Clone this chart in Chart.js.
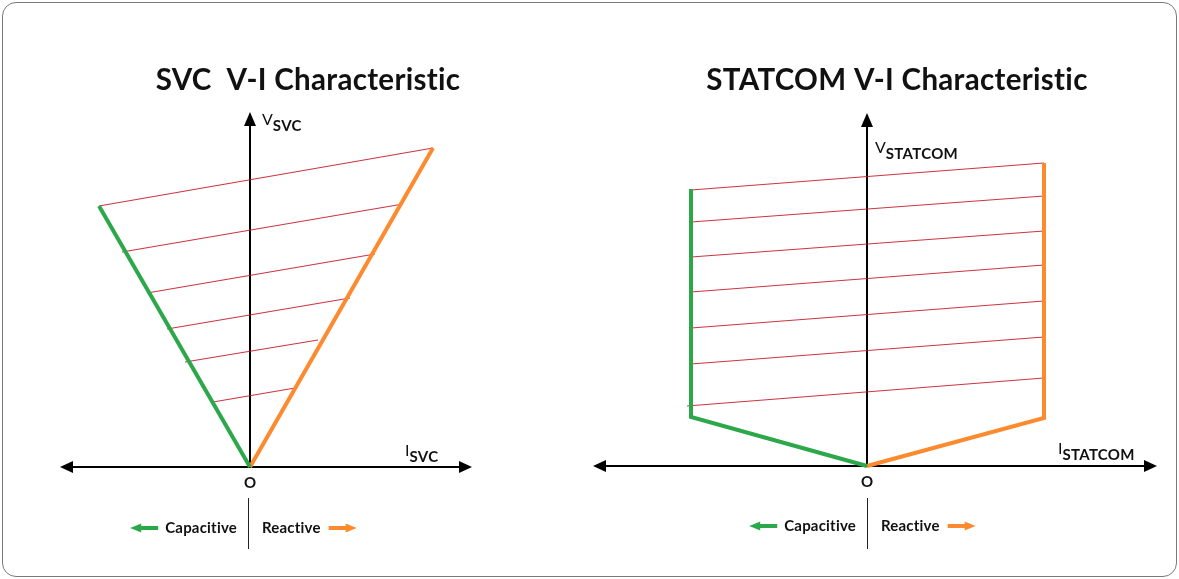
<!DOCTYPE html>
<html lang="en">
<head>
    <meta charset="UTF-8">
    <title>SVC and STATCOM V-I Characteristic</title>
    <script src="https://cdn.jsdelivr.net/npm/chart.js"></script>
    <style>
        * {
            margin: 0;
            padding: 0;
            box-sizing: border-box;
        }

        body {
            background: #fff;
            width: 1179px;
            height: 579px;
            position: relative;
            overflow: hidden;
        }

        .frame {
            position: absolute;
            left: 2px;
            top: 2px;
            width: 1175px;
            height: 575px;
            border: 1px solid #7a7a7a;
            border-radius: 14px;
        }

        .panel {
            position: absolute;
            top: 0;
            height: 579px;
        }

        #p-svc { left: 0; width: 590px; }
        #p-statcom { left: 590px; width: 589px; }
    </style>
</head>
<body>
    <div class="frame"></div>
    <div class="panel" id="p-svc"><canvas id="svc"></canvas></div>
    <div class="panel" id="p-statcom"><canvas id="statcom"></canvas></div>

    <script>
        // SVC: current I (x) and voltage V (y), arbitrary units
        const svcAxisI = [-19.0, 22.2];
        const svcAxisV = [0, 35.5];
        const svcCapI = [0, -15.1];
        const svcCapV = [0, 26.1];
        const svcIndI = [0, 18.3];
        const svcIndV = [0, 31.9];
        const svcHatchStartI = [-15.1, -12.8, -10.3, -8.3, -6.5, -3.7];
        const svcHatchStartV = [26.1, 21.5, 17.4, 13.8, 10.5, 6.5];
        const svcHatchEndI = [18.3, 15.3, 12.5, 10.0, 6.8, 4.5];
        const svcHatchEndV = [31.9, 26.3, 21.3, 16.9, 12.7, 7.9];

        // STATCOM
        const stcAxisI = [-27.4, 29.0];
        const stcAxisV = [0, 35.3];
        const stcCapI = [0, -17.6, -17.6];
        const stcCapV = [0, 4.9, 27.7];
        const stcIndI = [0, 17.7, 17.7];
        const stcIndV = [0, 4.8, 30.3];
        const stcHatchStartI = [-17.6, -17.6, -17.6, -17.6, -17.6, -17.6, -18.0];
        const stcHatchStartV = [27.6, 24.4, 20.9, 17.4, 13.8, 10.2, 6.0];
        const stcHatchEndI = [17.7, 17.7, 17.7, 17.7, 17.7, 17.7, 17.7];
        const stcHatchEndV = [30.3, 27.0, 23.5, 20.1, 16.5, 12.9, 8.8];

        const GREEN = '#2ca84a';
        const ORANGE = '#fd8a2e';
        const HATCH = 'rgba(195, 18, 32, 0.85)';

        Chart.defaults.font.family = 'Lato, "Open Sans", sans-serif';

        function pts(xs, ys) {
            return xs.map((x, i) => ({ x: x, y: ys[i] }));
        }

        function arrowHead(ctx, x, y, dir, len, half) {
            // dir: 'left' | 'right' | 'up'
            ctx.beginPath();
            if (dir === 'left') {
                ctx.moveTo(x, y); ctx.lineTo(x + len, y - half); ctx.lineTo(x + len, y + half);
            } else if (dir === 'right') {
                ctx.moveTo(x, y); ctx.lineTo(x - len, y - half); ctx.lineTo(x - len, y + half);
            } else {
                ctx.moveTo(x, y); ctx.lineTo(x - half, y + len); ctx.lineTo(x + half, y + len);
            }
            ctx.closePath();
            ctx.fill();
        }

        function subLabel(ctx, main, sub, x, y) {
            ctx.textAlign = 'left';
            ctx.textBaseline = 'alphabetic';
            ctx.font = '16px Lato';
            ctx.fillText(main, x, y);
            const w = ctx.measureText(main).width;
            ctx.font = 'bold 15px Lato';
            ctx.letterSpacing = '0.3px';
            ctx.fillText(sub, x + w, y + 6);
            ctx.letterSpacing = '0px';
        }

        function legendArrow(ctx, x1, x2, y, color, dir) {
            ctx.fillStyle = color;
            ctx.fillRect(Math.min(x1, x2) + (dir === 'left' ? 9 : 0), y - 2, Math.abs(x2 - x1) - 9, 4);
            arrowHead(ctx, dir === 'left' ? x1 : x2, y, dir, 11, 4.5);
        }

        const diagramPlugin = {
            id: 'diagram',
            beforeDatasetsDraw(chart, args, opts) {
                const ctx = chart.ctx;
                const xs = chart.scales.x, ys = chart.scales.y;
                const x0 = xs.getPixelForValue(0), y0 = ys.getPixelForValue(0);
                const xl = xs.getPixelForValue(xs.min), xr = xs.getPixelForValue(xs.max);
                const yt = ys.getPixelForValue(ys.max);
                ctx.save();
                ctx.strokeStyle = '#000';
                ctx.fillStyle = '#000';
                ctx.lineWidth = 2;
                ctx.beginPath();
                ctx.moveTo(xl + 8, y0); ctx.lineTo(xr - 8, y0);
                ctx.moveTo(x0, y0); ctx.lineTo(x0, yt + 8);
                ctx.stroke();
                arrowHead(ctx, xl, y0, 'left', 13, 6);
                arrowHead(ctx, xr, y0, 'right', 13, 6);
                arrowHead(ctx, x0, yt, 'up', 14, 6);
                ctx.restore();
            },
            afterDraw(chart, args, opts) {
                const ctx = chart.ctx;
                const x0 = chart.scales.x.getPixelForValue(0);
                const y0 = chart.scales.y.getPixelForValue(0);
                ctx.save();
                ctx.fillStyle = '#111';

                // title
                ctx.font = 'bold 29.5px Lato';
                ctx.letterSpacing = '0.3px';
                ctx.textAlign = 'center';
                ctx.textBaseline = 'alphabetic';
                ctx.fillText(opts.title, opts.titleX, 90);
                ctx.letterSpacing = '0px';

                // axis labels
                subLabel(ctx, 'V', opts.sub, opts.vPos[0], opts.vPos[1]);
                subLabel(ctx, 'I', opts.sub, opts.iPos[0], opts.iPos[1]);

                ctx.font = 'bold 15px Lato';
                ctx.textAlign = 'center';
                ctx.textBaseline = 'middle';
                ctx.fillText('O', x0, y0 + 16);

                // bottom key
                const dx = opts.divX;
                ctx.strokeStyle = '#222';
                ctx.lineWidth = 1;
                ctx.beginPath();
                ctx.moveTo(dx + 0.5, 498); ctx.lineTo(dx + 0.5, 549);
                ctx.stroke();

                ctx.font = 'bold 15px Lato';
                ctx.letterSpacing = '0.2px';
                ctx.textBaseline = 'middle';
                ctx.fillStyle = '#111';
                ctx.textAlign = 'right';
                ctx.fillText('Capacitive', dx - 11, opts.keyY);
                const cw = ctx.measureText('Capacitive').width;
                ctx.textAlign = 'left';
                ctx.fillText('Reactive', dx + 14, opts.keyY);
                const rw = ctx.measureText('Reactive').width;
                ctx.letterSpacing = '0px';

                const capLeft = dx - 11 - cw;
                legendArrow(ctx, capLeft - 35, capLeft - 7, opts.keyY, GREEN, 'left');
                const reRight = dx + 14 + rw;
                legendArrow(ctx, reRight + 8, reRight + 36, opts.keyY, ORANGE, 'right');
                ctx.restore();
            }
        };

        function buildChart(id, d) {
            const datasets = [];
            d.hatchStartI.forEach((x, i) => {
                datasets.push({
                    data: [{ x: x, y: d.hatchStartV[i] }, { x: d.hatchEndI[i], y: d.hatchEndV[i] }],
                    borderColor: HATCH,
                    borderWidth: 1.2,
                    order: 3
                });
            });
            datasets.push({ data: pts(d.capI, d.capV), borderColor: GREEN, borderWidth: 4, order: 1 });
            datasets.push({ data: pts(d.indI, d.indV), borderColor: ORANGE, borderWidth: 4, order: 1 });
            datasets.forEach(ds => {
                ds.showLine = true;
                ds.pointRadius = 0;
                ds.fill = false;
                ds.clip = false;
                ds.borderCapStyle = 'butt';
                ds.borderJoinStyle = 'miter';
            });

            return new Chart(document.getElementById(id), {
                type: 'scatter',
                data: { datasets: datasets },
                options: {
                    responsive: true,
                    maintainAspectRatio: false,
                    animation: false,
                    events: [],
                    layout: { padding: d.padding },
                    scales: {
                        x: { type: 'linear', display: false, min: d.axisI[0], max: d.axisI[1] },
                        y: { type: 'linear', display: false, min: d.axisV[0], max: d.axisV[1] }
                    },
                    plugins: {
                        legend: { display: false },
                        tooltip: { enabled: false },
                        diagram: d.labels
                    }
                },
                plugins: [diagramPlugin]
            });
        }

        buildChart('svc', {
            axisI: svcAxisI, axisV: svcAxisV,
            capI: svcCapI, capV: svcCapV, indI: svcIndI, indV: svcIndV,
            hatchStartI: svcHatchStartI, hatchStartV: svcHatchStartV,
            hatchEndI: svcHatchEndI, hatchEndV: svcHatchEndV,
            padding: { left: 60, right: 118, top: 112, bottom: 112 },
            labels: {
                title: 'SVC  V-I Characteristic', titleX: 308, sub: 'SVC',
                vPos: [262, 125], iPos: [405, 456],
                divX: 248, keyY: 528
            }
        });

        buildChart('statcom', {
            axisI: stcAxisI, axisV: stcAxisV,
            capI: stcCapI, capV: stcCapV, indI: stcIndI, indV: stcIndV,
            hatchStartI: stcHatchStartI, hatchStartV: stcHatchStartV,
            hatchEndI: stcHatchEndI, hatchEndV: stcHatchEndV,
            padding: { left: 3, right: 22, top: 113, bottom: 113 },
            labels: {
                title: 'STATCOM V-I Characteristic', titleX: 307, sub: 'STATCOM',
                vPos: [285, 153], iPos: [468, 454],
                divX: 277, keyY: 526
            }
        });
    </script>
</body>
</html>
